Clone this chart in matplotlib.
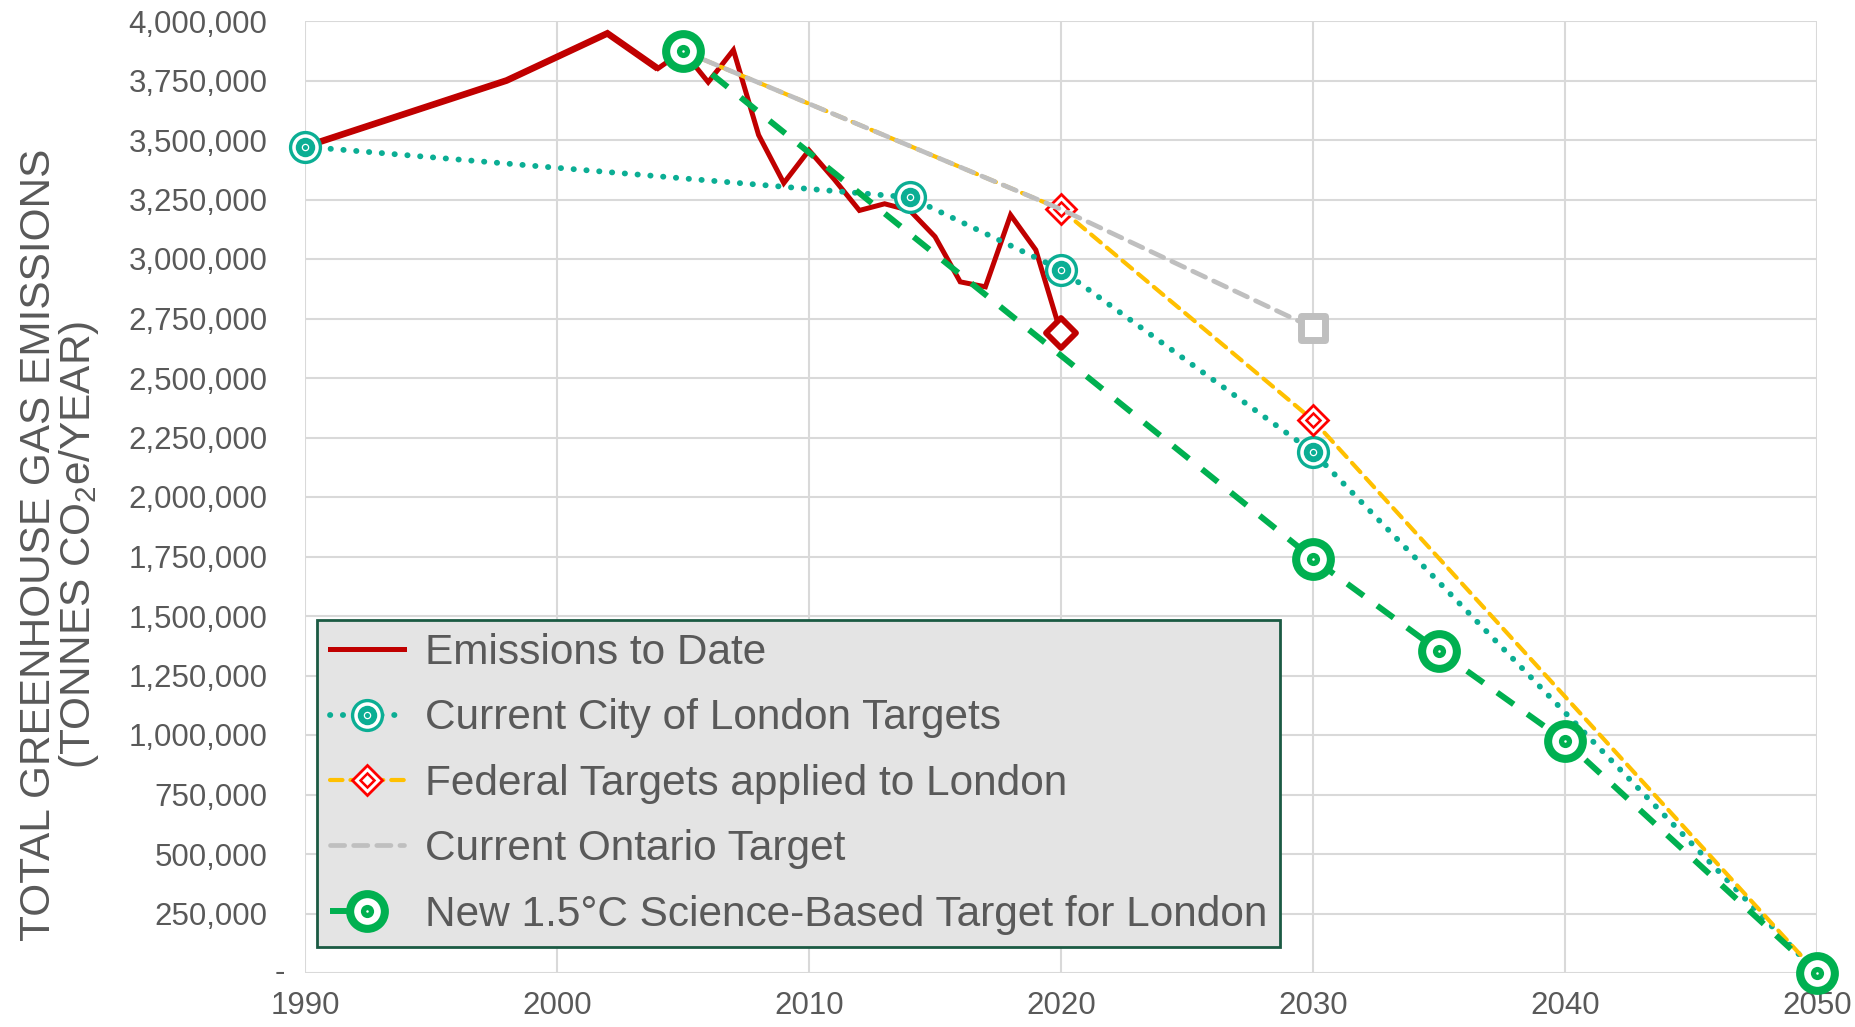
import matplotlib
matplotlib.use("Agg")
import matplotlib.pyplot as plt
from matplotlib.markers import MarkerStyle
from matplotlib.ticker import FuncFormatter, MultipleLocator

# --- Données ---
em_years = [1990, 1998, 2002, 2004, 2005, 2006, 2007, 2008, 2009, 2010,
            2011, 2012, 2013, 2014, 2015, 2016, 2017, 2018, 2019, 2020]
em_vals = [3472000, 3750000, 3948000, 3800000, 3874000, 3743000, 3878000,
           3521000, 3319000, 3457000, 3335000, 3204000, 3232000, 3204000,
           3094000, 2904000, 2883000, 3185000, 3038000, 2687000]

city_years = [1990, 2014, 2020, 2030, 2050]
city_vals = [3472000, 3259000, 2955000, 2189000, 0]

fed_years = [2005, 2020, 2030, 2050]
fed_vals = [3874000, 3209000, 2323000, 0]

ont_years = [2005, 2020, 2030]
ont_vals = [3874000, 3209000, 2711000]

sbt_years = [2005, 2030, 2035, 2040, 2050]
sbt_vals = [3874000, 1741000, 1353000, 975000, 0]

labels = [
    "Emissions to Date",
    "Current City of London Targets",
    "Federal Targets applied to London",
    "Current Ontario Target",
    "New 1.5°C Science-Based Target for London",
]

RED = "#C00000"
TEAL = "#0BAE94"
ORANGE = "#FFC000"
FRED = "#FF0000"
GREY = "#BFBFBF"
GREEN = "#00B050"
TXT = "#595959"

plt.rcParams.update({
    "font.family": ["Liberation Sans", "DejaVu Sans"],
    "mathtext.fontset": "custom",
    "mathtext.rm": "Liberation Sans",
    "mathtext.default": "regular",
})

fig = plt.figure(figsize=(18.56, 10.27), dpi=100)
ax = fig.add_axes([305 / 1856, 1 - 973 / 1027, 1512 / 1856, 952 / 1027])

# (1) Emissions - le début de la série est plus épais sur l'original
l_em, = ax.plot(em_years, em_vals, color=RED, lw=3.6, zorder=3,
                solid_joinstyle="miter")
ax.plot(em_years[:4], em_vals[:4], color=RED, lw=4.8, zorder=3,
        solid_joinstyle="miter", solid_capstyle="butt")
ax.plot(em_years[-1:], em_vals[-1:], ls="none",
        marker=MarkerStyle("D", joinstyle="round"), ms=15, mfc="white",
        mec=RED, mew=4.2, zorder=3.1, clip_on=False)

# (2) City of London
l_city, = ax.plot(city_years, city_vals, color=TEAL, lw=4.2,
                  ls=(0, (0.05, 2.15)), dash_capstyle="round", zorder=4)
m_city1, = ax.plot(city_years, city_vals, ls="none", marker="o", ms=21.5,
                   mfc="white", mec=TEAL, mew=2.4, zorder=4.1, clip_on=False)
m_city2, = ax.plot(city_years, city_vals, ls="none", marker="o", ms=14,
                   mfc=TEAL, mec=TEAL, mew=0, zorder=4.2, clip_on=False)
m_city3, = ax.plot(city_years, city_vals, ls="none", marker="o", ms=4.5,
                   mfc=TEAL, mec="white", mew=0.9, zorder=4.3, clip_on=False)

# (3) Fédéral
l_fed, = ax.plot(fed_years, fed_vals, color=ORANGE, lw=3.0,
                 ls=(0, (3.0, 1.9)), dash_capstyle="round", zorder=5)
m_fed1, = ax.plot(fed_years, fed_vals, ls="none", marker="D", ms=15.5,
                  mfc="white", mec=FRED, mew=2.0, zorder=5.1, clip_on=False)
m_fed2, = ax.plot(fed_years, fed_vals, ls="none", marker="D", ms=7,
                  mfc="white", mec=FRED, mew=1.8, zorder=5.2, clip_on=False)

# (4) Ontario
l_ont, = ax.plot(ont_years, ont_vals, color=GREY, lw=3.4,
                 ls=(0, (3.0, 1.9)), dash_capstyle="round", zorder=6)
ax.plot(ont_years[-1:], ont_vals[-1:], ls="none",
        marker=MarkerStyle("s", joinstyle="round"), ms=17.5, mfc="white",
        mec=GREY, mew=5, zorder=6.1, clip_on=False)

# (5) Science-based target
l_sbt, = ax.plot(sbt_years, sbt_vals, color=GREEN, lw=4.3,
                 ls=(0, (3.4, 2.8)), zorder=7)
m_sbt1, = ax.plot(sbt_years, sbt_vals, ls="none", marker="o", ms=25,
                  mfc="white", mec=GREEN, mew=5.8, zorder=7.1, clip_on=False)
m_sbt2, = ax.plot(sbt_years, sbt_vals, ls="none", marker="o", ms=9.5,
                  mfc=GREEN, mec=GREEN, mew=0, zorder=7.2, clip_on=False)
m_sbt3, = ax.plot(sbt_years, sbt_vals, ls="none", marker="o", ms=1.8,
                  mfc="white", mec="white", mew=0, zorder=7.3, clip_on=False)

# --- Axes ---
ax.set_xlim(1990, 2050)
ax.set_ylim(0, 4000000)
ax.xaxis.set_major_locator(MultipleLocator(10))
ax.yaxis.set_major_locator(MultipleLocator(250000))
ax.yaxis.set_major_formatter(
    FuncFormatter(lambda v, p: "" if v == 0 else f"{v:,.0f}"))
ax.grid(True, color="#D9D9D9", lw=1.5)
ax.set_axisbelow(True)
for s in ax.spines.values():
    s.set_visible(False)
ax.tick_params(axis="both", length=0, labelsize=22.5, labelcolor=TXT)
ax.tick_params(axis="y", pad=27)
ax.tick_params(axis="x", pad=13)

# zéro au format comptable (tiret décalé vers l'axe)
ax.annotate("-", xy=(0, 0), xycoords=("axes fraction", "data"),
            xytext=(-18, 0), textcoords="offset points",
            ha="center", va="center", fontsize=22.5, color=TXT)

fig.text(60 / 1856, 1 - 545 / 1027,
         "TOTAL GREENHOUSE GAS EMISSIONS\n(TONNES CO$_2$e/YEAR)",
         rotation=90, ha="center", va="center", multialignment="center",
         fontsize=30.5, color=TXT, linespacing=0.92)

# --- Légende ---
handles = [
    l_em,
    (l_city, m_city1, m_city2, m_city3),
    (l_fed, m_fed1, m_fed2),
    l_ont,
    (l_sbt, m_sbt1, m_sbt2, m_sbt3),
]
leg = ax.legend(handles, labels, loc="lower left",
                bbox_to_anchor=(0.008, 0.027), borderaxespad=0,
                fontsize=30.5, labelcolor=TXT, handlelength=1.75,
                handletextpad=0.5, labelspacing=0.6, borderpad=0.3,
                fancybox=False, framealpha=1, facecolor="#E4E4E4",
                edgecolor="#1B5A43")
leg.get_frame().set_linewidth(2)
leg.set_zorder(10)

fig.savefig("out.png", dpi=100)
